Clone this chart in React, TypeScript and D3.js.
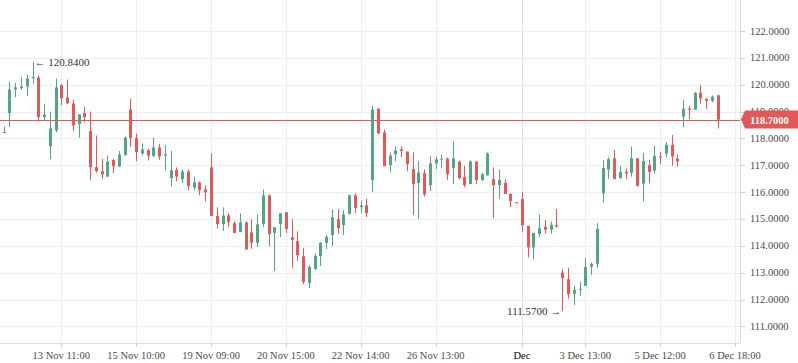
import React from "react";
import * as d3 from "d3";

const opens = [118.21,118.20,118.94,119.83,119.87,119.93,120.24,120.27,118.79,117.71,118.30,119.98,119.52,119.30,118.53,118.94,118.27,116.93,116.78,116.58,117.20,116.96,117.38,119.08,118.02,117.44,117.56,117.35,117.66,117.36,116.52,116.82,116.48,116.77,116.17,116.36,116.10,116.92,115.11,114.81,115.13,114.84,114.51,114.87,114.50,114.11,114.81,115.88,114.48,114.81,115.25,114.32,114.17,113.61,112.62,113.14,113.62,114.11,114.40,114.99,114.77,115.18,115.88,115.44,115.51,116.45,119.11,118.22,117.00,117.41,117.59,117.51,116.86,116.34,116.70,116.26,117.07,117.25,117.25,116.89,117.14,116.56,116.30,117.14,116.45,116.63,116.48,116.26,116.34,115.93,115.62,115.74,114.74,113.94,114.44,114.71,114.60,114.77,113.00,112.76,112.21,112.37,112.51,113.22,113.33,115.95,116.84,117.26,116.52,116.75,116.72,117.26,116.32,117.00,116.80,117.33,117.44,117.76,117.24,118.81,119.11,119.07,119.70,119.48,119.40,119.60];
const highs = [118.24,118.45,120.12,120.07,120.27,120.37,120.84,120.34,119.29,119.00,120.23,120.02,120.19,119.44,118.90,119.19,119.00,118.11,117.24,117.36,117.24,117.53,118.07,119.47,118.18,117.81,117.61,118.03,117.80,117.74,117.53,116.92,116.84,116.84,116.58,116.40,116.25,117.44,115.43,115.43,115.21,114.91,115.21,114.91,114.99,115.17,116.10,115.91,114.69,115.21,115.25,114.99,114.54,113.91,113.29,113.72,114.14,114.40,115.36,115.36,115.32,115.91,115.95,115.69,115.75,119.22,119.11,118.33,117.48,117.70,117.70,117.51,117.48,117.15,116.84,117.33,117.33,117.40,117.29,117.88,117.18,116.99,117.18,117.14,116.71,117.48,116.92,116.84,116.48,115.96,115.63,116.00,114.74,114.48,115.17,114.96,114.90,115.37,113.13,113.18,112.51,112.66,113.54,113.38,114.84,117.20,117.30,117.57,116.97,116.87,117.69,117.26,117.46,117.20,117.72,117.50,117.86,118.13,117.41,119.44,119.22,119.73,120.00,119.48,119.60,119.63];
const lows = [118.20,118.19,118.44,119.54,119.80,119.57,120.03,118.63,118.67,117.23,118.23,119.24,119.28,118.27,118.03,118.61,116.45,116.73,116.48,116.56,116.71,116.93,117.35,117.67,117.15,117.36,117.18,117.30,117.20,116.81,116.21,116.40,116.34,116.06,116.06,115.89,115.65,115.11,114.64,114.55,114.70,114.48,114.51,113.85,113.89,113.95,114.70,113.99,113.06,114.33,114.48,113.18,113.44,112.58,112.43,113.10,113.25,113.88,113.99,114.44,114.40,115.18,115.22,115.22,115.07,116.00,118.16,116.97,116.74,117.15,117.30,116.78,115.15,115.00,115.83,116.04,116.86,116.89,116.45,116.30,116.48,116.19,116.30,116.30,116.41,116.60,115.03,115.75,115.93,115.44,115.59,114.51,113.57,113.50,114.33,114.45,114.45,114.68,111.57,112.04,111.80,112.14,112.51,112.92,113.18,115.61,116.49,116.47,116.50,116.50,116.58,116.21,115.65,116.32,116.69,117.03,117.29,116.98,116.95,118.41,118.72,119.07,119.29,119.10,119.34,118.37];
const closes = [118.23,118.24,119.82,119.90,119.93,120.23,120.28,118.79,118.89,118.37,119.90,119.50,119.31,118.48,118.89,118.79,116.93,116.78,116.66,117.14,116.96,117.40,118.03,118.01,117.49,117.59,117.36,117.66,117.33,117.41,116.81,116.58,116.77,116.22,116.36,116.08,115.99,115.11,114.81,115.13,114.89,114.48,114.87,113.87,114.11,114.80,115.88,114.44,114.69,115.21,114.63,114.22,113.65,112.66,113.21,113.62,114.11,114.33,115.06,114.66,115.17,115.88,115.41,115.50,115.22,119.07,118.19,116.97,117.36,117.55,117.53,117.04,116.30,116.73,115.91,117.07,117.22,117.25,116.67,117.25,116.52,116.26,117.14,116.45,116.66,117.44,116.26,116.45,115.93,115.67,115.60,114.77,113.94,114.48,114.65,114.60,114.78,114.72,112.80,112.20,112.36,112.40,113.21,113.33,114.63,116.90,117.23,116.49,116.75,116.69,117.26,116.23,117.16,116.75,117.35,117.29,117.76,117.33,117.14,119.10,119.07,119.69,119.49,119.40,119.55,118.70];

const priceTicks = [111, 112, 113, 114, 115, 116, 117, 118, 119, 120, 121, 122];
const timeTickIndex = [11, 24, 37, 50, 63, 76, 91, 102, 115, 128];
const timeTickLabels = ["13 Nov 11:00", "15 Nov 10:00", "19 Nov 09:00", "20 Nov 15:00", "22 Nov 14:00", "26 Nov 13:00", "Dec", "3 Dec 13:00", "5 Dec 12:00", "6 Dec 18:00"];
const lastPrice = 118.7;
const maxMarker = { index: 6, value: 120.84, label: "120.8400" };
const minMarker = { index: 98, value: 111.57, label: "111.5700" };

const W = 798, H = 363;
const PLOT_R = 740, PLOT_B = 343;
const UP = "#53a683", DOWN = "#e25a58", NEUTRAL = "#8a8f8c";
const GRID = "#eceef1";
const FONT = "'Liberation Serif', 'Times New Roman', serif";

export default function App() {
  const spacing = 5.758;
  const x = d3.scaleLinear().domain([11, 125]).range([61.3, 61.3 + 114 * spacing]);
  const y = d3.scaleLinear().domain([111, 122]).range([326.35, 31]);
  const fmt = (v: number) => v.toFixed(4);

  return (
    <svg width={W} height={H} style={{ position: "absolute", left: 0, top: 0, background: "#fff" }}>
      <defs>
        <clipPath id="plot"><rect x={0} y={0} width={PLOT_R} height={PLOT_B} /></clipPath>
      </defs>
      {/* grid */}
      <g>
        {priceTicks.map((p) => (
          <line key={"h" + p} x1={0} x2={PLOT_R} y1={Math.round(y(p)) + 0.5} y2={Math.round(y(p)) + 0.5} stroke={GRID} />
        ))}
        {timeTickIndex.map((t, k) => (
          <line key={"v" + t} x1={Math.round(x(t)) + 0.5} x2={Math.round(x(t)) + 0.5} y1={0} y2={PLOT_B}
            stroke={timeTickLabels[k] === "Dec" ? "#dfe2e6" : GRID} />
        ))}
      </g>
      {/* candles */}
      <g clipPath="url(#plot)">
        {opens.map((o, i) => {
          const c = closes[i];
          const cx = Math.round(x(i));
          const color = c > o ? UP : c < o ? DOWN : NEUTRAL;
          const top = y(Math.max(o, c));
          const bot = y(Math.min(o, c));
          const bh = Math.max(1, bot - top);
          return (
            <g key={i}>
              <rect x={cx} y={y(highs[i])} width={1} height={Math.max(1, y(lows[i]) - y(highs[i]))} fill={color} />
              <rect x={cx - 1} y={top} width={3} height={bh} fill={color} />
            </g>
          );
        })}
      </g>
      {/* last price line */}
      <line x1={0} x2={PLOT_R} y1={Math.round(y(lastPrice)) + 0.5} y2={Math.round(y(lastPrice)) + 0.5} stroke={DOWN} strokeWidth={1} />
      {/* markers */}
      <text x={x(maxMarker.index) + 2} y={y(maxMarker.value)} dominantBaseline="central" fontFamily={FONT} fontSize={11} fill="#333">
        {"\u2190 " + maxMarker.label}
      </text>
      <text x={x(minMarker.index) - 1} y={y(minMarker.value)} dominantBaseline="central" textAnchor="end" fontFamily={FONT} fontSize={11} fill="#333">
        {minMarker.label + " \u2192"}
      </text>
      {/* axes borders */}
      <line x1={PLOT_R + 0.5} x2={PLOT_R + 0.5} y1={0} y2={PLOT_B} stroke="#d9dde3" />
      <line x1={0} x2={PLOT_R} y1={PLOT_B + 0.5} y2={PLOT_B + 0.5} stroke="#d9dde3" />
      {/* price axis */}
      {priceTicks.map((p) => (
        <g key={"p" + p}>
          <line x1={PLOT_R + 1} x2={PLOT_R + 5} y1={Math.round(y(p)) + 0.5} y2={Math.round(y(p)) + 0.5} stroke="#c9ced6" />
          <text x={750} y={y(p)} dominantBaseline="central" fontFamily={FONT} fontSize={10.5} fill="#4a4a4a">{fmt(p)}</text>
        </g>
      ))}
      {/* last price label */}
      <path d={`M ${PLOT_R + 1} ${y(lastPrice)} L ${PLOT_R + 5} ${y(lastPrice) - 9} L ${W} ${y(lastPrice) - 9} L ${W} ${y(lastPrice) + 9} L ${PLOT_R + 5} ${y(lastPrice) + 9} Z`} fill={DOWN} />
      <text x={750} y={y(lastPrice) + 0.5} dominantBaseline="central" fontFamily={FONT} fontSize={10.5} fontWeight="bold" fill="#fff">{fmt(lastPrice)}</text>
      {/* time axis */}
      {timeTickIndex.map((t, k) => (
        <g key={"t" + t}>
          <line x1={Math.round(x(t)) + 0.5} x2={Math.round(x(t)) + 0.5} y1={PLOT_B + 1} y2={PLOT_B + 4} stroke="#c9ced6" />
          <text x={x(t)} y={355} dominantBaseline="central" textAnchor="middle" fontFamily={FONT} fontSize={10.5}
            fill={timeTickLabels[k] === "Dec" ? "#000" : "#4a4a4a"}>{timeTickLabels[k]}</text>
        </g>
      ))}
    </svg>
  );
}
